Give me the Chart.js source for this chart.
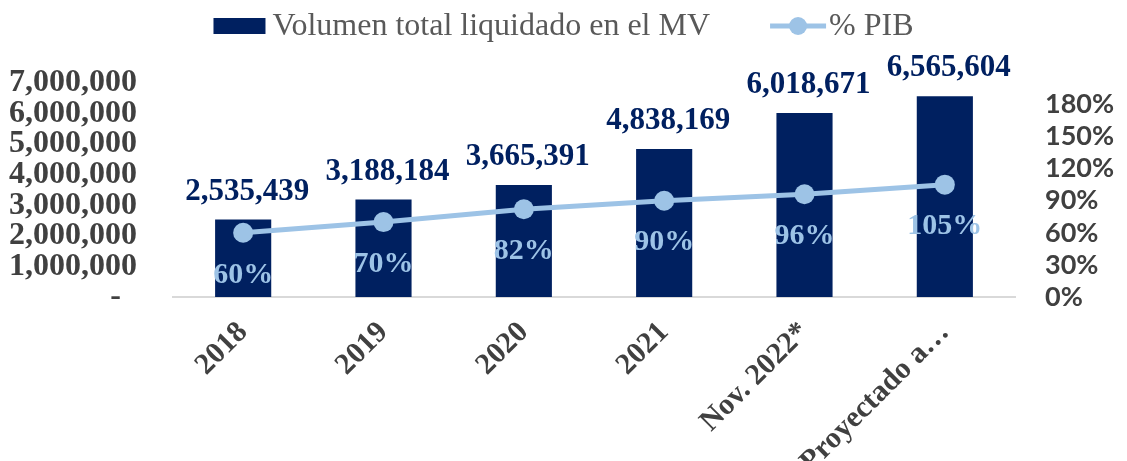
<!DOCTYPE html>
<html><head><meta charset="utf-8">
<script src="https://cdn.jsdelivr.net/npm/chart.js@4.4.0/dist/chart.umd.min.js"></script>
<style>html,body{margin:0;padding:0;background:#fff}canvas{display:block}</style>
</head><body>
<canvas id="c" width="1127" height="461"></canvas>
<script>
const categories = ['2018', '2019', '2020', '2021', 'Nov. 2022*', 'Proyectado a…'];
const volumen = [2535439, 3188184, 3665391, 4838169, 6018671, 6565604];
const pctPIB = [60, 70, 82, 90, 96, 105];
const seriesNames = ['Volumen total liquidado en el MV', '% PIB'];
const leftAxisMax = 7000000;
const leftAxisStep = 1000000;
const rightAxisMax = 200;
const rightAxisStep = 30;

const NAVY = '#002060';
const LIGHT = '#9DC3E6';
const GRAY = '#404040';
const SERIF = '"Liberation Serif", "Times New Roman", serif';

const legendPlugin = {
  id: 'customLegend',
  afterDraw(chart) {
    const ctx = chart.ctx;
    ctx.save();
    ctx.font = '32px ' + SERIF;
    ctx.textBaseline = 'middle';
    const names = chart.data.datasets.map(d => d.label);
    const w1 = ctx.measureText(names[0]).width;
    const w2 = ctx.measureText(names[1]).width;
    const total = 52 + 7 + w1 + 60 + 56 + 3 + w2;
    let x = (chart.width - total) / 2;
    const cy = 26;
    ctx.fillStyle = NAVY;
    ctx.fillRect(x, cy - 8, 52, 16);
    x += 52 + 7;
    ctx.fillStyle = '#595959';
    ctx.fillText(names[0], x, cy + 1);
    x += w1 + 60;
    ctx.strokeStyle = LIGHT;
    ctx.lineWidth = 5;
    ctx.beginPath(); ctx.moveTo(x, cy); ctx.lineTo(x + 56, cy); ctx.stroke();
    ctx.fillStyle = LIGHT;
    ctx.beginPath(); ctx.arc(x + 28, cy, 9, 0, Math.PI * 2); ctx.fill();
    x += 56 + 3;
    ctx.fillStyle = '#595959';
    ctx.fillText(names[1], x, cy + 1);
    ctx.restore();
  }
};

const labelPlugin = {
  id: 'valueLabels',
  afterDatasetsDraw(chart) {
    const ctx = chart.ctx;
    ctx.save();
    ctx.textAlign = 'center';
    ctx.textBaseline = 'middle';
    const barMeta = chart.getDatasetMeta(0);
    ctx.font = 'bold 31px ' + SERIF;
    ctx.fillStyle = NAVY;
    barMeta.data.forEach((el, i) => {
      ctx.fillText(volumen[i].toLocaleString('en-US'), el.x + 4, el.y - 28);
    });
    const lineMeta = chart.getDatasetMeta(1);
    ctx.font = 'bold 30px ' + SERIF;
    ctx.fillStyle = LIGHT;
    lineMeta.data.forEach((el, i) => {
      ctx.fillText(pctPIB[i] + '%', el.x, el.y + 42);
    });
    ctx.restore();
  }
};

new Chart(document.getElementById('c'), {
  data: {
    labels: categories,
    datasets: [
      {
        type: 'bar', label: seriesNames[0], data: volumen, yAxisID: 'y', order: 2,
        backgroundColor: NAVY, categoryPercentage: 1, barPercentage: 0.4
      },
      {
        type: 'line', label: seriesNames[1], data: pctPIB, yAxisID: 'y1', order: 1,
        borderColor: LIGHT, borderWidth: 5, pointRadius: 10, pointHoverRadius: 10,
        pointBackgroundColor: LIGHT, pointBorderWidth: 0, tension: 0, fill: false
      }
    ]
  },
  options: {
    responsive: false,
    animation: false,
    layout: { padding: { top: 83, left: 0, right: 0, bottom: 0 } },
    plugins: { legend: { display: false }, tooltip: { enabled: false } },
    scales: {
      x: {
        grid: { display: false, drawTicks: false },
        border: { display: true, color: '#D9D9D9', width: 2 },
        ticks: {
          autoSkip: false, minRotation: 45, maxRotation: 45, padding: 18,
          color: GRAY, font: { family: SERIF, size: 30, weight: 'bold' }
        },
        afterFit(s) { s.height = 164; }
      },
      y: {
        position: 'left', min: 0, max: leftAxisMax,
        grid: { display: false, drawTicks: false },
        border: { display: false },
        ticks: {
          stepSize: leftAxisStep, autoSkip: false, padding: 36,
          color: GRAY, font: { family: SERIF, size: 32, weight: 'bold' },
          callback: v => v === 0 ? '-  ' : v.toLocaleString('en-US')
        },
        afterFit(s) { s.width = 173; }
      },
      y1: {
        position: 'right', min: 0, max: rightAxisMax,
        grid: { display: false, drawTicks: false },
        border: { display: false },
        ticks: {
          stepSize: rightAxisStep, includeBounds: false, autoSkip: false, padding: 30,
          color: GRAY, font: { family: 'Lato, "Open Sans", sans-serif', size: 27, weight: 'bold' },
          callback: v => v + '%'
        },
        afterFit(s) { s.width = 112; }
      }
    }
  },
  plugins: [legendPlugin, labelPlugin]
});
</script>
</body></html>
